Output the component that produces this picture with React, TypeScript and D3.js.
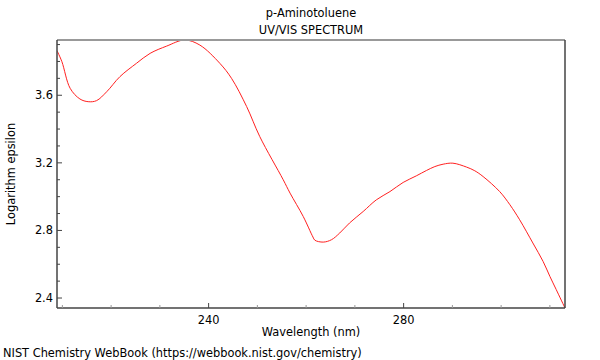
import React from "react";
import * as d3 from "d3";

const wavelengths = [208.9, 209.9, 211.6, 213.6, 215.3, 217.0, 219.1, 221.8, 225.2, 228.0, 231.4, 235.1, 238.2, 242.3, 244.7, 247.8, 250.5, 255.3, 256.7, 259.4, 261.4, 261.8, 263.5, 265.2, 266.9, 268.9, 271.7, 274.4, 277.2, 279.9, 282.6, 284.7, 286.4, 288.1, 290.1, 292.9, 294.6, 296.3, 299.7, 301.8, 303.8, 306.5, 308.6, 310.0, 311.3, 313.1];
const logEps = [3.864, 3.799, 3.641, 3.578, 3.562, 3.568, 3.621, 3.71, 3.789, 3.848, 3.891, 3.927, 3.897, 3.789, 3.7, 3.533, 3.355, 3.1, 3.021, 2.883, 2.761, 2.742, 2.731, 2.745, 2.785, 2.844, 2.912, 2.981, 3.03, 3.084, 3.123, 3.155, 3.178, 3.192, 3.198, 3.175, 3.153, 3.119, 3.03, 2.952, 2.863, 2.726, 2.617, 2.528, 2.45, 2.341];
const xMajorTicks = [240, 280];
const xMinorTicks = [210, 220, 230, 250, 260, 270, 290, 300, 310];
const yMajorTicks = [2.4, 2.8, 3.2, 3.6];
const yMinorTicks = [2.5, 2.6, 2.7, 2.9, 3.0, 3.1, 3.3, 3.4, 3.5, 3.7, 3.8, 3.9];

const W = 600, H = 360;
const L = 57, R = 565, T = 40, B = 308;
const font = "DejaVu Sans, sans-serif";
const fs = 11.4;

export default function App() {
  const x = d3.scaleLinear().domain([208.9, 313.1]).range([L, R]);
  const y = d3.scaleLinear().domain([2.341, 3.927]).range([B, T]);
  const pts = wavelengths.map((w, i) => [w, logEps[i]] as [number, number]);
  const line = d3.line<[number, number]>().x(d => x(d[0])).y(d => y(d[1])).curve(d3.curveCatmullRom.alpha(0.5));
  const path = line(pts) || "";
  return (
    <svg width={W} height={H} style={{ position: "absolute", left: 0, top: 0 }} fontFamily={font}>
      <rect width={W} height={H} fill="#fff" />
      <text x={311} y={17} textAnchor="middle" fontSize={fs} fill="#000">p-Aminotoluene</text>
      <text x={311} y={34} textAnchor="middle" fontSize={fs} fill="#000">UV/VIS SPECTRUM</text>
      <defs>
        <clipPath id="clip"><rect x={L} y={T - 1} width={R - L + 1} height={B - T + 2} /></clipPath>
      </defs>
      <path d={path} fill="none" stroke="#ff2020" strokeWidth={1} clipPath="url(#clip)" />
      <line x1={L} x2={R} y1={T} y2={T} stroke="#999" strokeWidth={2} />
      <line x1={R} x2={R} y1={T} y2={B} stroke="#444" strokeWidth={1.5} />
      <line x1={L} x2={L} y1={T} y2={B} stroke="#444" strokeWidth={1.5} />
      <line x1={L} x2={R} y1={B} y2={B} stroke="#444" strokeWidth={1.5} />
      {xMajorTicks.map(t => (
        <g key={"xM" + t}>
          <line x1={x(t)} x2={x(t)} y1={B} y2={B - 5} stroke="#444" />
          <text x={x(t)} y={324} textAnchor="middle" fontSize={fs} fill="#000">{t}</text>
        </g>
      ))}
      {xMinorTicks.map(t => (
        <line key={"xm" + t} x1={x(t)} x2={x(t)} y1={B} y2={B - 3} stroke="#999" />
      ))}
      {yMajorTicks.map(t => (
        <g key={"yM" + t}>
          <line x1={L} x2={L + 5} y1={y(t)} y2={y(t)} stroke="#444" />
          <text x={53} y={y(t) + 4} textAnchor="end" fontSize={fs} fill="#000">{t.toFixed(1)}</text>
        </g>
      ))}
      {yMinorTicks.map(t => (
        <line key={"ym" + t} x1={L} x2={L + 3} y1={y(t)} y2={y(t)} stroke="#444" />
      ))}
      <text x={311} y={336} textAnchor="middle" fontSize={fs} fill="#000">Wavelength (nm)</text>
      <text transform={`translate(15,${(T + B) / 2}) rotate(-90)`} textAnchor="middle" fontSize={fs} fill="#000">Logarithm epsilon</text>
      <text x={3} y={357} fontSize={fs} fill="#000">NIST Chemistry WebBook (https://webbook.nist.gov/chemistry)</text>
    </svg>
  );
}
